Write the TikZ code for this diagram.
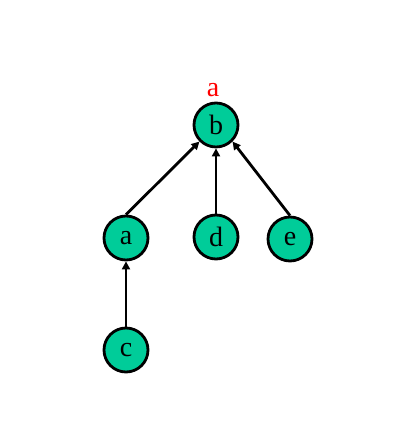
\documentclass[tikz,border=0pt]{standalone}
\usepackage{fontspec}
\setmainfont{Liberation Serif}
\usetikzlibrary{arrows.meta}
\definecolor{nodefill}{RGB}{0,204,153}
\begin{document}
\begin{tikzpicture}[x=1pt,y=1pt,
  vert/.style={circle,draw=black,line width=2.8pt,fill=nodefill,minimum size=44pt,inner sep=0pt,font=\fontsize{28}{28}\selectfont},
  edge/.style={line width=2.8pt,-{Triangle[length=8pt,width=8pt]}}]
\useasboundingbox (0,0) rectangle (409,427);
\node[vert] (b) at (216,302) {b};
\node[vert] (a) at (126,189) {a};
\node[vert] (d) at (216,190) {d};
\node[vert] (e) at (290,188) {e};
\node[vert] (c) at (126,77) {c};
\node[text=red,font=\fontsize{28}{28}\selectfont,anchor=base] (lbl) at (213,330.5) {a};
\draw[edge] (a.north) -- (b.south west);
\draw[edge] (d.north) -- (b.south);
\draw[edge] (e.north) -- (b.south east);
\draw[edge] (c.north) -- (a.south);
\end{tikzpicture}
\end{document}
